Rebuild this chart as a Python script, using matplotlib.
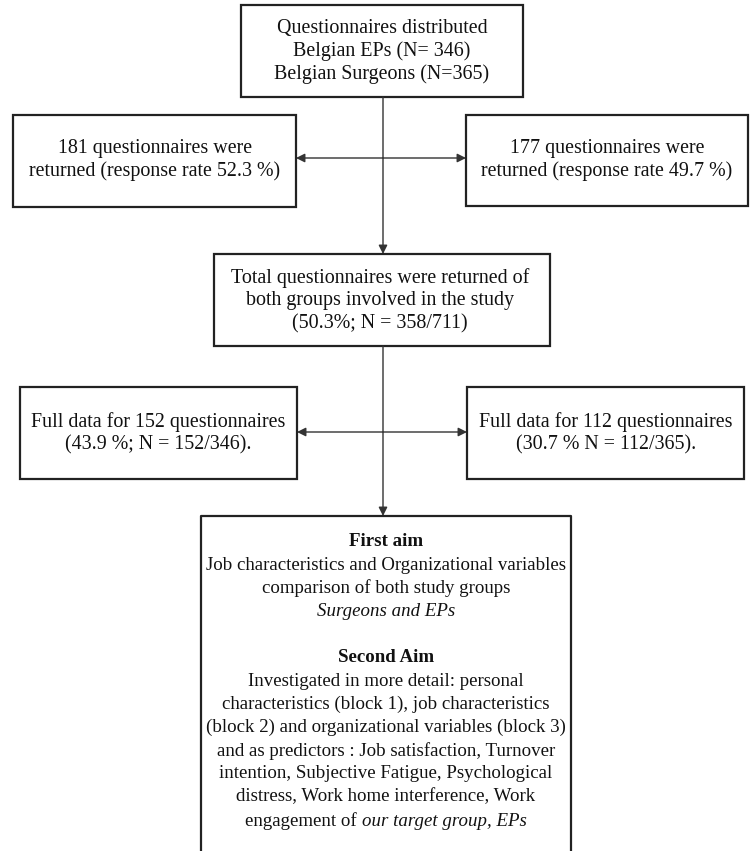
import matplotlib
matplotlib.use("Agg")
import matplotlib.pyplot as plt
from matplotlib.patches import Rectangle

# texts of the flow chart boxes
top_lines = ["Questionnaires distributed", "Belgian EPs (N= 346)", "Belgian Surgeons (N=365)"]
returned_left = ["181 questionnaires were", "returned (response rate 52.3 %)"]
returned_right = ["177 questionnaires were", "returned (response rate 49.7 %)"]
total_lines = ["Total questionnaires were returned of", "both groups involved in the study", "(50.3%; N = 358/711)"]
full_left = ["Full data for 152 questionnaires", "(43.9 %; N = 152/346)."]
full_right = ["Full data for 112 questionnaires", "(30.7 % N = 112/365)."]
aim_lines = [
    ("First aim", "bold"),
    ("Job characteristics and Organizational variables", "normal"),
    ("comparison of both study groups", "normal"),
    ("Surgeons and EPs", "italic"),
    ("", "normal"),
    ("Second Aim", "bold"),
    ("Investigated in more detail: personal", "normal"),
    ("characteristics (block 1), job characteristics", "normal"),
    ("(block 2) and organizational variables (block 3)", "normal"),
    ("and as predictors : Job satisfaction, Turnover", "normal"),
    ("intention, Subjective Fatigue, Psychological", "normal"),
    ("distress, Work home interference, Work", "normal"),
]
last_plain = "engagement of "
last_italic = "our target group, EPs"

W, H = 753, 851
fig = plt.figure(figsize=(W / 100, H / 100), dpi=100)
ax = fig.add_axes([0, 0, 1, 1])
ax.set_xlim(0, W)
ax.set_ylim(H, 0)
ax.axis("off")

FONT = "Liberation Serif"
FS = 14.4
FS_AIM = 13.6
EDGE = "#222222"
LINE = "#333333"
TXT = "#111111"


def box(x0, y0, x1, y1, closed=True):
    if closed:
        ax.add_patch(Rectangle((x0, y0), x1 - x0, y1 - y0, fill=False, ec=EDGE, lw=1.6))
    else:
        ax.plot([x0, x0, x1, x1], [y1, y0, y0, y1], color=EDGE, lw=1.6, solid_capstyle="butt")


def lines(cx, ys, txts):
    for y, t in zip(ys, txts):
        ax.text(cx, y, t, ha="center", va="center", fontsize=FS, family=FONT, color=TXT)


def arrow(x0, y0, x1, y1):
    ax.annotate("", xy=(x1, y1), xytext=(x0, y0),
                arrowprops=dict(arrowstyle="-|>", color=LINE, lw=1.0,
                                mutation_scale=13, shrinkA=0, shrinkB=0))


# top box
box(241, 5, 523, 97)
lines(382, [28, 51, 74], top_lines)

# first row
box(13, 115, 296, 207)
lines(155, [148, 171], returned_left)
box(466, 115, 748, 206)
lines(607, [148, 171], returned_right)

# middle box
box(214, 254, 550, 346)
lines(380, [278, 301, 324], total_lines)

# second row
box(20, 387, 297, 479)
lines(158, [422, 445], full_left)
box(467, 387, 744, 479)
lines(606, [422, 445], full_right)

# bottom box (open at the bottom)
box(201, 516, 571, H + 5, closed=False)
ys = [542, 565, 588, 612, 635, 657, 682, 704, 727, 751, 773, 797]
for y, (t, st) in zip(ys, aim_lines):
    if not t:
        continue
    ax.text(386, y, t, ha="center", va="center", fontsize=FS_AIM, family=FONT, color=TXT,
            fontweight="bold" if st == "bold" else "normal",
            fontstyle="italic" if st == "italic" else "normal")

# mixed last line
fig.canvas.draw()
r = fig.canvas.get_renderer()
t1 = ax.text(0, 821, last_plain, ha="left", va="center", fontsize=FS_AIM, family=FONT, color=TXT)
t2 = ax.text(0, 821, last_italic, ha="left", va="center", fontsize=FS_AIM, family=FONT,
             color=TXT, fontstyle="italic")
w1 = t1.get_window_extent(r).width
w2 = t2.get_window_extent(r).width
x_start = 386 - (w1 + w2) / 2
t1.set_x(x_start)
t2.set_x(x_start + w1)

# connectors
arrow(383, 97, 383, 254)
arrow(383, 158, 296, 158)
arrow(383, 158, 466, 158)
arrow(383, 346, 383, 516)
arrow(383, 432, 297, 432)
arrow(383, 432, 467, 432)

fig.savefig("out.png", dpi=100, facecolor="white")
